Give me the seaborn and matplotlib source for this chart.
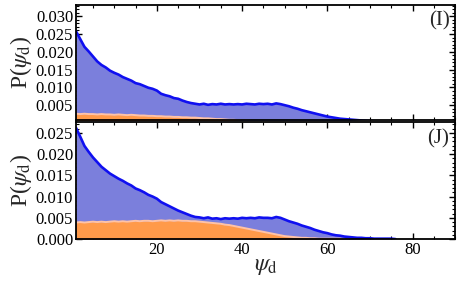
import numpy as np
import pandas as pd
import matplotlib
matplotlib.use("Agg")
import matplotlib.pyplot as plt
import seaborn as sns
from matplotlib.ticker import MultipleLocator, FormatStrFormatter

psi = list(range(1, 77))

top_blue = [0.0258, 0.0236, 0.0214, 0.0201, 0.0187, 0.0173, 0.0163, 0.0156, 0.0147, 0.0141,
            0.0136, 0.0129, 0.0124, 0.0119, 0.0112, 0.0109, 0.0104, 0.0099, 0.0096, 0.0091,
            0.0082, 0.0078, 0.0075, 0.0070, 0.0068, 0.0063, 0.0059, 0.0056, 0.0054, 0.0052,
            0.0054, 0.0051, 0.0053, 0.0052, 0.0054, 0.0052, 0.0053, 0.0052, 0.0053, 0.0052,
            0.0054, 0.0053, 0.0052, 0.0054, 0.0053, 0.0054, 0.0052, 0.0055, 0.0053, 0.0050,
            0.0047, 0.0043, 0.0040, 0.0036, 0.0033, 0.0030, 0.0027, 0.0024, 0.0021, 0.0018,
            0.0016, 0.0014, 0.0012, 0.0011, 0.0010, 0.0009, 0.0008, 0.0007, 0.0006, 0.0005,
            0.0005, 0.0004, 0.0003, 0.0003, 0.0002, 0.0001]

top_orange = [0.0026, 0.0025, 0.0026, 0.0025, 0.0025, 0.0024, 0.0025, 0.0024, 0.0024, 0.0023,
              0.0024, 0.0023, 0.0022, 0.0023, 0.0022, 0.0021, 0.0021, 0.0020, 0.0020, 0.0019,
              0.0019, 0.0018, 0.0018, 0.0017, 0.0017, 0.0016, 0.0016, 0.0015, 0.0015, 0.0014,
              0.0013, 0.0013, 0.0012, 0.0011, 0.0011, 0.0010, 0.0009, 0.0009, 0.0008, 0.0007,
              0.0007, 0.0006, 0.0005, 0.0005, 0.0004, 0.0004, 0.0003, 0.0003, 0.0002, 0.0002,
              0.0001, 0.0001, 0.0001, 0.0001, 0.0001, 0.0001, 0.0001, 0.0001, 0.0001, 0.0001,
              0.0001, 0.0001, 0.0001, 0.0, 0.0, 0.0, 0.0, 0.0, 0.0, 0.0,
              0.0, 0.0, 0.0, 0.0, 0.0, 0.0]

bottom_blue = [0.0262, 0.0241, 0.0219, 0.0205, 0.0192, 0.0181, 0.0170, 0.0162, 0.0154, 0.0148,
               0.0142, 0.0137, 0.0131, 0.0126, 0.0119, 0.0115, 0.0110, 0.0104, 0.0100, 0.0095,
               0.0087, 0.0082, 0.0077, 0.0072, 0.0067, 0.0063, 0.0059, 0.0055, 0.0052, 0.0051,
               0.0049, 0.0051, 0.0048, 0.0049, 0.0047, 0.0049, 0.0048, 0.0049, 0.0048, 0.0050,
               0.0049, 0.0050, 0.0049, 0.0051, 0.0050, 0.0050, 0.0049, 0.0052, 0.0050, 0.0046,
               0.0042, 0.0039, 0.0036, 0.0032, 0.0029, 0.0026, 0.0022, 0.0019, 0.0016, 0.0014,
               0.0011, 0.0009, 0.0008, 0.0006, 0.0005, 0.0004, 0.0003, 0.0003, 0.0002, 0.0002,
               0.0001, 0.0001, 0.0001, 0.0001, 0.0001, 0.0]

bottom_orange = [0.0039, 0.0040, 0.0039, 0.0040, 0.0041, 0.0040, 0.0041, 0.0040, 0.0041, 0.0042,
                 0.0041, 0.0042, 0.0041, 0.0042, 0.0043, 0.0042, 0.0043, 0.0043, 0.0042, 0.0043,
                 0.0044, 0.0043, 0.0044, 0.0043, 0.0044, 0.0043, 0.0043, 0.0042, 0.0042, 0.0041,
                 0.0040, 0.0039, 0.0038, 0.0037, 0.0036, 0.0034, 0.0033, 0.0031, 0.0029, 0.0027,
                 0.0025, 0.0023, 0.0021, 0.0019, 0.0017, 0.0015, 0.0013, 0.0011, 0.0009, 0.0007,
                 0.0006, 0.0005, 0.0004, 0.0003, 0.0003, 0.0002, 0.0002, 0.0001, 0.0001, 0.0001,
                 0.0001, 0.0001, 0.0001, 0.0, 0.0, 0.0, 0.0, 0.0, 0.0, 0.0,
                 0.0, 0.0, 0.0, 0.0, 0.0, 0.0]

panel_labels = ["(I)", "(J)"]

sns.set_theme(style="ticks")
plt.rcParams['font.family'] = ['Liberation Serif', 'DejaVu Serif']
plt.rcParams['mathtext.fontset'] = 'stix'

BLUE_LINE = "#1010f0"
BLUE_FILL = "#7b7fdc"
OR_FILL = "#ff9a4a"
OR_LINE = "#ffc3a6"

fig = plt.figure(figsize=(4.63, 2.86), dpi=100)
ax_top = fig.add_axes([0.164, 0.580, 0.819, 0.403])
ax_bot = fig.add_axes([0.164, 0.164, 0.819, 0.409])

panels = [
    (ax_top, top_blue, top_orange, (0.0008, 0.0332), 0.005),
    (ax_bot, bottom_blue, bottom_orange, (0.0, 0.0275), 0.000),
]

for i, (ax, blue, orange, ylim, ystart) in enumerate(panels):
    df = pd.DataFrame({"psi": psi, "blue": blue, "orange": orange})
    ax.fill_between(df["psi"], 0, df["blue"], color=BLUE_FILL, lw=0, zorder=1)
    ax.fill_between(df["psi"], 0, df["orange"], color=OR_FILL, lw=0, zorder=2)
    dfo = df[df["psi"] <= 64]
    sns.lineplot(data=dfo, x="psi", y="orange", ax=ax, color=OR_LINE, lw=1.4, zorder=3)
    sns.lineplot(data=df, x="psi", y="blue", ax=ax, color=BLUE_LINE, lw=1.9, zorder=4)
    ax.set_xlim(1, 90)
    ax.set_ylim(*ylim)
    ax.xaxis.set_major_locator(MultipleLocator(20))
    ax.xaxis.set_minor_locator(MultipleLocator(5))
    ax.set_yticks(np.arange(ystart, 0.0301 if i == 0 else 0.0251, 0.005))
    ax.yaxis.set_minor_locator(MultipleLocator(0.001))
    ax.yaxis.set_major_formatter(FormatStrFormatter("%.3f"))
    ax.tick_params(which="both", direction="in", top=True, right=True, colors="black",
                   labelsize=12, pad=2)
    ax.tick_params(which="major", length=4, width=1.0)
    ax.tick_params(which="minor", length=2, width=0.8)
    for sp in ax.spines.values():
        sp.set_linewidth(1.3)
        sp.set_color("black")
        sp.set_zorder(10)
    ax.set_ylabel(r"P($\psi_{\rm d}$)", fontsize=17, labelpad=1)
    ax.text(0.985, 0.86, panel_labels[i], transform=ax.transAxes, ha="right", va="center",
            fontsize=15)
    ax.set_xlabel("")

ax_top.tick_params(labelbottom=False)
ax_bot.set_xlabel(r"$\psi_{\rm d}$", fontsize=17, labelpad=-1)

fig.savefig("out.png", dpi=100)
